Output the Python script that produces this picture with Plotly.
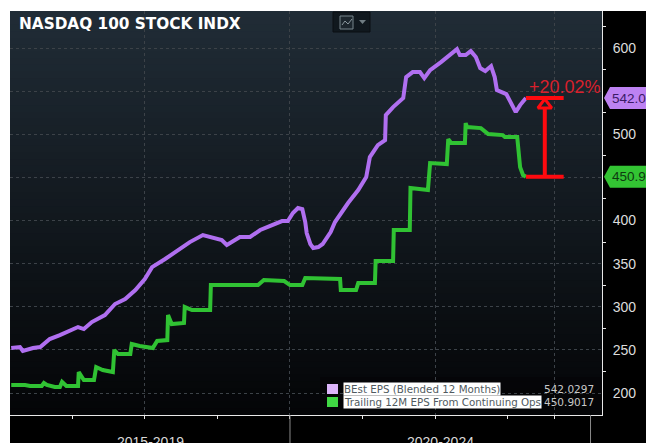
import plotly.graph_objects as go

TITLE = "NASDAQ 100 STOCK INDX"
period_labels = ["2015-2019", "2020-2024"]
series_names = ["BEst EPS (Blended 12 Months)", "Trailing 12M EPS From Continuing Ops"]
last_text = ["542.0297", "450.9017"]
tag_text = ["542.0", "450.9"]
change_text = "+20.02%"

best_x = [2016.16,2016.28,2016.32,2016.46,2016.56,2016.69,2016.83,2017.00,2017.08,2017.16,2017.27,2017.45,2017.59,2017.73,2017.87,2018.00,2018.10,2018.28,2018.48,2018.62,2018.80,2018.97,2019.06,2019.13,2019.31,2019.45,2019.59,2019.72,2019.89,2019.97,2020.04,2020.11,2020.17,2020.21,2020.23,2020.28,2020.32,2020.39,2020.45,2020.56,2020.62,2020.80,2020.94,2021.05,2021.10,2021.21,2021.31,2021.32,2021.42,2021.56,2021.60,2021.69,2021.79,2021.85,2021.93,2022.08,2022.20,2022.30,2022.34,2022.42,2022.49,2022.56,2022.62,2022.69,2022.77,2022.82,2022.85,2022.98,2023.11,2023.17,2023.25]
best_y = [252.2,253.3,248.7,252.2,253.3,262.6,267.2,274.2,276.5,274.2,282.3,290.4,303.2,309,319.4,332.2,346,355.4,367,375,383.2,379.7,377.4,371.6,380.9,380.9,389,393.6,399.4,399.4,408.7,414.5,413.3,398.3,385.5,372.8,368.1,369.3,372.8,386.7,398.3,420.3,435.4,450.4,473.6,487.5,493.3,522.3,531.6,542,566.4,572.2,572.2,565.2,574.5,583.8,591.9,598.8,591.9,591.9,596.5,589.6,576.8,573.3,579.1,566.4,551.3,546.7,525.8,533.9,542.03]

trail_x = [2016.16,2016.35,2016.42,2016.58,2016.61,2016.65,2016.76,2016.83,2016.86,2016.92,2017.08,2017.09,2017.16,2017.30,2017.33,2017.42,2017.56,2017.58,2017.63,2017.80,2017.82,2017.93,2018.11,2018.17,2018.31,2018.32,2018.37,2018.54,2018.55,2018.65,2018.90,2018.91,2019.17,2019.56,2019.64,2019.92,2020.00,2020.17,2020.21,2020.45,2020.69,2020.70,2020.91,2020.94,2021.17,2021.18,2021.42,2021.43,2021.65,2021.66,2021.90,2021.93,2022.16,2022.18,2022.22,2022.41,2022.42,2022.44,2022.63,2022.73,2022.93,2022.96,2023.13,2023.17,2023.21,2023.25]
trail_y = [209.3,209.3,208.1,208.1,211.6,209.3,207,207,212.8,208.1,208.1,224.3,215.1,215.1,230.1,226.7,224.3,249.9,245.2,245.2,256.8,254.5,252.2,260.3,261.4,290.4,280,281.2,299.7,296.2,296.2,325.2,325.2,325.2,331,329.9,325.2,325.2,333.3,333.3,332.2,319.4,319.4,327.5,327.5,353,353,389,389,437.7,435.4,466.7,465.5,494.5,489.9,489.9,513,508.4,507.2,500.3,499.1,496.8,496.8,462,452.8,450.9]

bar_x = [2023.25, 2023.77]
stem_x = 2023.51
end_best = 542.03
end_trail = 450.90
label_y = 555

major_x = [2018, 2020, 2022, 2023.65]
minor_x = [2017, 2019, 2021, 2023]
year_edges = [2020, 2024.14]
y_major = [200, 250, 300, 350, 400, 450, 500, 550, 600]
y_minor = [225, 275, 325, 375, 425, 475, 525, 575, 625]
y_text = ["200", "250", "300", "350", "400", "", "500", "", "600"]

PURPLE = "#b06ff0"
GREEN = "#30c233"
RED = "#ff0a0f"
W, H = 646, 443
L, T, R, B = 10, 11, 602, 415


def px(x):
    return (x - L) / (R - L)


def py(y):
    return (B - y) / (B - T)


def rect(x0, y0, x1, y1, color, layer="below", line=None):
    return dict(type="rect", xref="paper", yref="paper", x0=px(x0), x1=px(x1), y0=py(y0), y1=py(y1),
                fillcolor=color, layer=layer, line=line or dict(width=0))


shapes = [
    rect(R, T, W, H, "#000000"),
    rect(L, B, W, H, "#000000"),
]
# plot background gradient
n = 60
top, mid = (32, 44, 54), (4, 5, 7)
for i in range(n):
    t = i / (n - 1)
    c = [round(a + (b - a) * t) for a, b in zip(top, mid)]
    y0 = T + (B - T) * i / n
    y1 = T + (B - T) * (i + 1) / n + 1
    shapes.append(rect(L, y0, R, min(y1, B), f"rgb({c[0]},{c[1]},{c[2]})"))

# period separators
for yr in year_edges:
    shapes.append(dict(type="line", xref="x", yref="paper", x0=yr, x1=yr, y0=0, y1=py(H),
                       line=dict(color="#8a8a8a", width=1), layer="above"))

# legend backdrop and keys
shapes += [
    rect(320, 377, R, B - 1, "rgba(5,5,7,0.8)", layer="below"),
    rect(327, 384, 338, 394, "#dcb4fa", layer="above"),
    rect(327, 397, 338, 407, "#40d844", layer="above"),
]

# toolbar icon
shapes += [
    rect(333, 12, 370, 32, "#10181e", line=dict(color="#0a0e12", width=1)),
    rect(340, 16, 353, 29, "#1c262d", line=dict(color="#76858c", width=1)),
    dict(type="path", xref="paper", yref="paper", line=dict(color="#8a989e", width=1),
         path=f"M{px(342)},{py(25)} L{px(345)},{py(21)} L{px(348)},{py(24)} L{px(352)},{py(19)}"),
    dict(type="path", xref="paper", yref="paper", fillcolor="#6f7c82", line=dict(width=0),
         path=f"M{px(359)},{py(20)} L{px(366)},{py(20)} L{px(362.5)},{py(24)} Z"),
]


# value tags on the right axis
def tag(value, color):
    h = 11 / ((B - T) / (643 - 174.5))
    return dict(type="path", xref="paper", yref="y", fillcolor=color, line=dict(width=0), layer="above",
                path=(f"M{px(604)},{value} L{px(610)},{value + h} L{px(W + 2)},{value + h} "
                      f"L{px(W + 2)},{value - h} L{px(610)},{value - h} Z"))


shapes += [tag(end_best, "#bd82f2"), tag(end_trail, "#33c433")]

fig = go.Figure()
fig.add_trace(go.Scatter(x=best_x, y=best_y, mode="lines", name=series_names[0],
                         line=dict(color=PURPLE, width=4), showlegend=False))
fig.add_trace(go.Scatter(x=trail_x, y=trail_y, mode="lines", name=series_names[1],
                         line=dict(color=GREEN, width=4), showlegend=False))
for val in (end_best, end_trail):
    fig.add_trace(go.Scatter(x=bar_x, y=[val, val], mode="lines", line=dict(color=RED, width=4),
                             showlegend=False, hoverinfo="skip"))
fig.add_trace(go.Scatter(x=[stem_x, stem_x], y=[end_trail, end_best], mode="lines",
                         line=dict(color=RED, width=4), showlegend=False, hoverinfo="skip"))
fig.add_trace(go.Scatter(x=[stem_x], y=[end_best - 8], mode="markers", showlegend=False, hoverinfo="skip",
                         marker=dict(symbol="triangle-up", size=12, color="#1a222a",
                                     line=dict(color=RED, width=3))))
# tick pointers on the right axis
fig.add_trace(go.Scatter(x=[2024.34] * len(y_major), y=y_major, mode="markers", cliponaxis=False,
                         showlegend=False, hoverinfo="skip",
                         marker=dict(symbol="triangle-right", size=6, color="#f2f2f2")))

annotations = [
    dict(text=f"<b>{TITLE}</b>", xref="paper", yref="paper", x=px(17), y=py(24), xanchor="left", yanchor="middle",
         showarrow=False, font=dict(family="DejaVu Sans", size=15.3, color="#ffffff")),
    dict(text=change_text, xref="x", yref="y", x=2023.79, y=label_y, xanchor="center", yanchor="middle",
         showarrow=False, font=dict(family="Liberation Sans", size=18, color="#d8202c")),
]
for i, (name, val) in enumerate(zip(series_names, last_text)):
    yc = 389 + i * 13.3
    annotations.append(dict(text=name, xref="paper", yref="paper", x=px(343), y=py(yc), xanchor="left",
                            yanchor="middle", showarrow=False, bgcolor="#ffffff", borderpad=0,
                            font=dict(family="DejaVu Sans", size=10.3, color="#505a60")))
    annotations.append(dict(text=val, xref="paper", yref="paper", x=px(596), y=py(yc), xanchor="right",
                            yanchor="middle", showarrow=False,
                            font=dict(family="DejaVu Sans", size=10.5, color="#c8c8c8")))
for txt, val, col in zip(tag_text, (end_best, end_trail), ("#3b1a66", "#0e3a10")):
    annotations.append(dict(text=txt, xref="paper", yref="y", x=px(610), y=val, xanchor="left", yanchor="middle",
                            showarrow=False, font=dict(family="Liberation Sans", size=13.5, color=col)))
for txt, xc in zip(period_labels, (150, 440)):
    annotations.append(dict(text=txt, xref="paper", yref="paper", x=px(xc), y=py(442), xanchor="center",
                            yanchor="middle", showarrow=False,
                            font=dict(family="Liberation Sans", size=14, color="#d8d8d8")))

fig.update_layout(
    width=W, height=H, margin=dict(l=L, r=W - R, t=T, b=H - B, pad=0),
    paper_bgcolor="#ffffff", plot_bgcolor="rgba(0,0,0,0)",
    showlegend=False, shapes=shapes, annotations=annotations,
    xaxis=dict(range=[2016.143, 2024.298], tickmode="array", tickvals=major_x, ticktext=[""] * len(major_x),
               ticks="outside", ticklen=3, tickcolor="#e8e8e8", showline=True, linecolor="#e8e8e8", linewidth=1,
               showgrid=True, griddash="dot", gridcolor="#3c4248", gridwidth=1, zeroline=False,
               minor=dict(tickmode="array", tickvals=minor_x, ticks="outside", ticklen=3, tickcolor="#e8e8e8",
                          showgrid=False)),
    yaxis=dict(range=[174.5, 643], side="right", tickmode="array", tickvals=y_major, ticktext=y_text,
               ticks="outside", ticklen=7, tickcolor="rgba(0,0,0,0)",
               tickfont=dict(family="Liberation Sans", size=14, color="#dcdcdc"),
               showline=True, linecolor="#e8e8e8", linewidth=1, mirror=False,
               showgrid=True, griddash="dot", gridcolor="#3c4248", gridwidth=1, zeroline=False,
               minor=dict(tickmode="array", tickvals=y_minor, ticks="outside", ticklen=3, tickcolor="#e8e8e8",
                          showgrid=False)),
)
fig.write_html("out.html", config=dict(displayModeBar=False), post_script="document.body.style.margin='0';")
